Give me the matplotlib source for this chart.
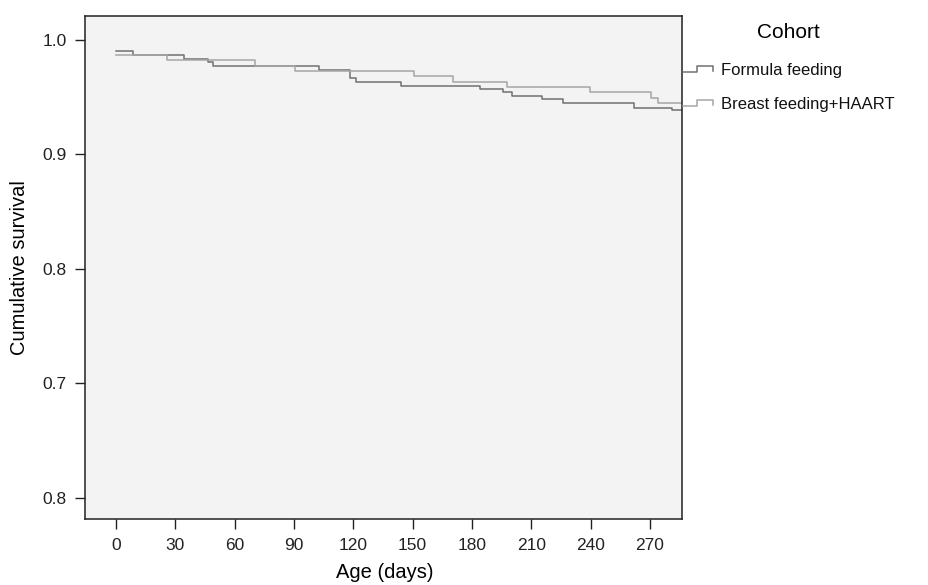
import matplotlib
matplotlib.use("Agg")
import matplotlib.pyplot as plt
from matplotlib.lines import Line2D

plt.rcParams["font.family"] = ["Liberation Sans", "DejaVu Sans"]

# Kaplan-Meier step data (days, cumulative survival)
formula_t = [0, 8.7, 34.5, 46.6, 48.8, 102.5, 118.2, 121.2, 144.3, 184.3,
             195.6, 200.3, 215.5, 225.9, 261.8, 280.9, 286]
formula_s = [0.9904, 0.9866, 0.9831, 0.9810, 0.9773, 0.9738, 0.9671, 0.9636,
             0.9601, 0.9569, 0.9545, 0.9510, 0.9481, 0.9446, 0.9405, 0.9385,
             0.9385]
breast_t = [0, 26.0, 70.2, 90.4, 150.5, 170.4, 197.8, 239.7, 270.5, 274.0, 286]
breast_s = [0.9866, 0.9822, 0.9773, 0.9729, 0.9680, 0.9636, 0.9586, 0.9548,
            0.9496, 0.9452, 0.9452]

x_ticks = [0, 30, 60, 90, 120, 150, 180, 210, 240, 270]
y_ticks = [1.0, 0.9, 0.8, 0.7, 0.6]
y_ticklabels = ["1.0", "0.9", "0.8", "0.7", "0.8"]
series_labels = ["Formula feeding", "Breast feeding+HAART"]
colors = ["#707070", "#a6a6a6"]

fig = plt.figure(figsize=(9.29, 5.85), dpi=100)
ax = fig.add_axes([85 / 929, 1 - 519 / 585, (682 - 85) / 929, (519 - 16) / 585])
ax.set_facecolor("#f3f3f3")

ax.step(formula_t, formula_s, where="post", color=colors[0], lw=1.1)
ax.step(breast_t, breast_s, where="post", color=colors[1], lw=1.1)

ax.set_xlim(-15.7, 286.2)
ax.set_ylim(0.5816, 1.0208)
ax.set_xticks(x_ticks)
ax.set_yticks(y_ticks)
ax.set_yticklabels(y_ticklabels)
ax.tick_params(direction="out", length=7, width=1, labelsize=12.5,
               colors="#222222", pad=6)
ax.tick_params(axis="x", pad=7)
for sp in ax.spines.values():
    sp.set_color("#222222")
    sp.set_linewidth(1.1)

fig.text(385 / 929, 1 - 572 / 585, "Age (days)", ha="center", va="center",
         fontsize=14.5)
fig.text(20 / 929, 1 - 268 / 585, "Cumulative survival", ha="center",
         va="center", rotation=90, fontsize=14.5)

# legend drawn as step symbols next to the plot
fig.text(788 / 929, 1 - 33 / 585, "Cohort", ha="center", va="center",
         fontsize=15)
for i, (lab, c) in enumerate(zip(series_labels, colors)):
    yc = 69 + i * 34
    xs = [683, 697, 697, 713, 713]
    ys = [yc + 3, yc + 3, yc - 3, yc - 3, yc + 2]
    fig.add_artist(Line2D([v / 929 for v in xs], [1 - v / 585 for v in ys],
                          color=c, lw=1.1, transform=fig.transFigure))
    fig.text(721 / 929, 1 - (yc + 1) / 585, lab, ha="left", va="center",
             fontsize=12, color="#111111")

fig.savefig("out.png", dpi=100)
